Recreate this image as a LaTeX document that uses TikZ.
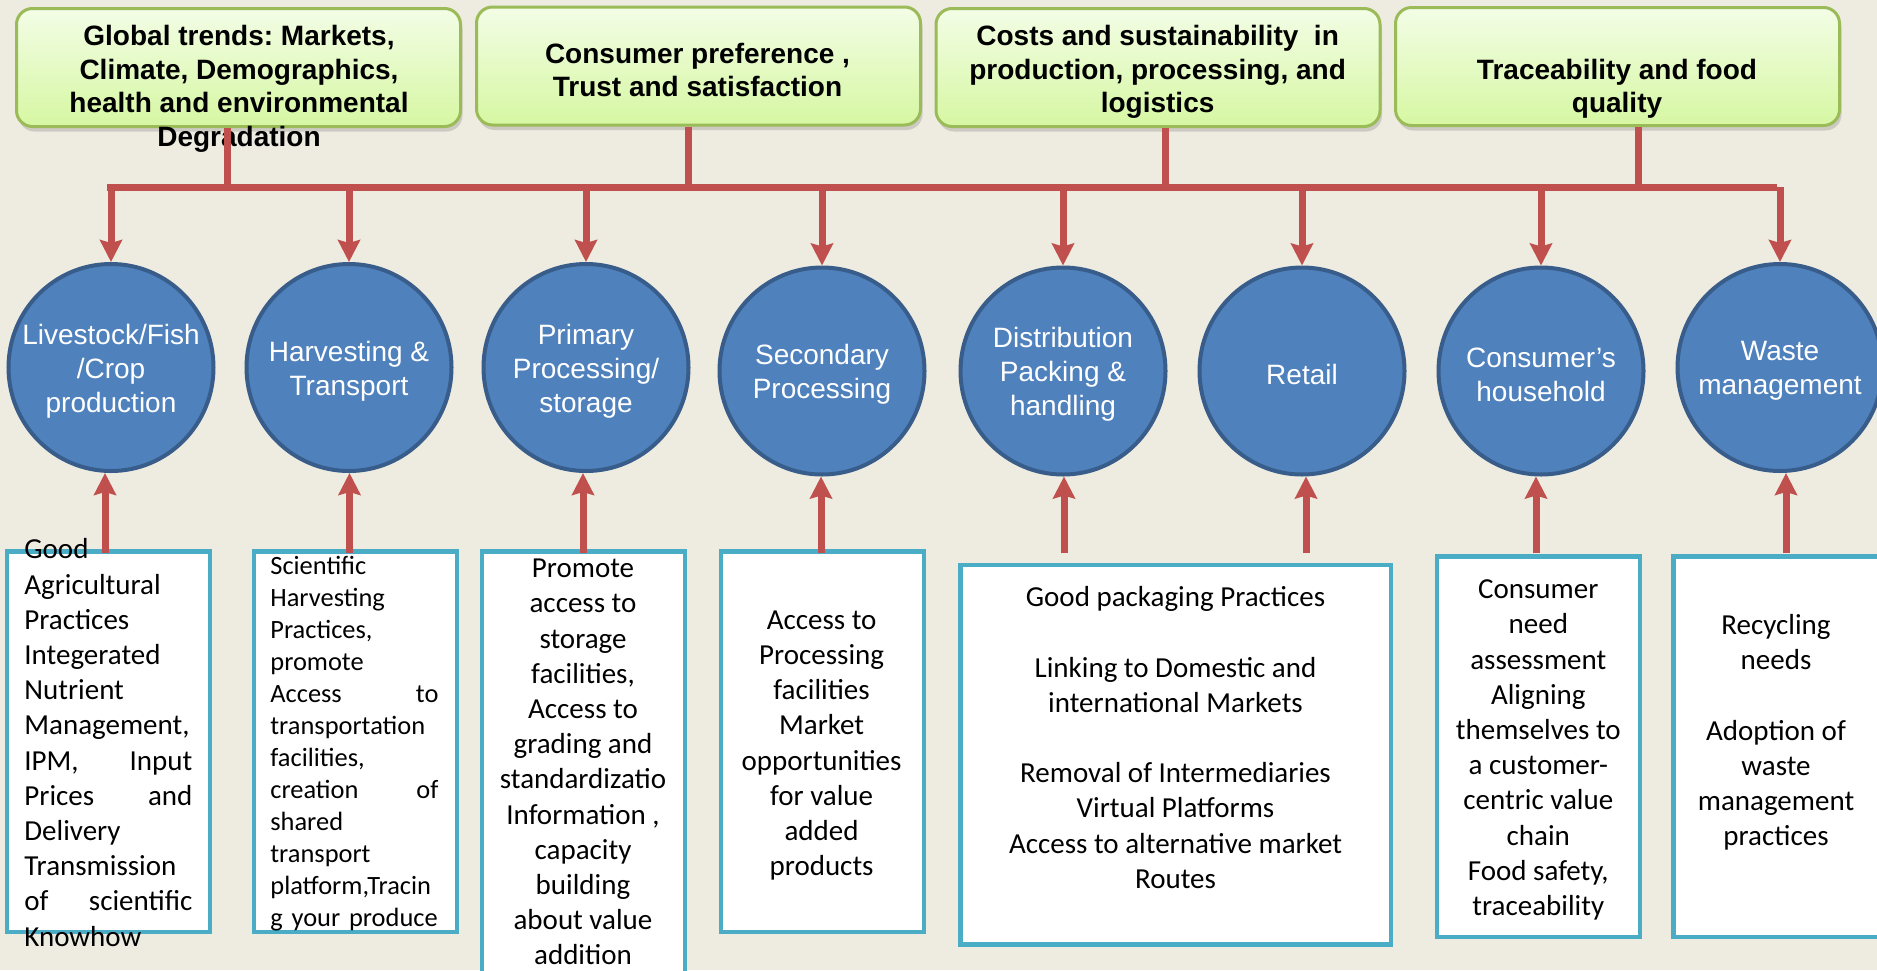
\documentclass[tikz,border=0pt]{standalone}
\usepackage{fontspec}
\setmainfont{Carlito}
\newfontfamily\headfont{Liberation Sans}
\usetikzlibrary{arrows.meta,shapes.geometric,shadows}
\frenchspacing

\definecolor{paper}{HTML}{EEEBE0}
\definecolor{chainred}{HTML}{C0504D}
\definecolor{stageblue}{HTML}{4F81BD}
\definecolor{stageedge}{HTML}{385D8A}
\definecolor{noteedge}{HTML}{4BACC6}
\definecolor{trendedge}{HTML}{9BBB59}
\definecolor{trendtop}{HTML}{F3FDE6}
\definecolor{trendbottom}{HTML}{D6F7A2}

\begin{document}
\begin{tikzpicture}[x=0.5pt,y=-0.5pt,
    trend/.style={rectangle, rounded corners=8pt, draw=trendedge, line width=1.5pt,
      top color=trendtop, bottom color=trendbottom,
      minimum width=222pt, minimum height=59pt,
      drop shadow={shadow xshift=1pt, shadow yshift=-2.5pt, opacity=0.3}},
    trendtext/.style={align=center, inner sep=0pt,
      font={\headfont\bfseries\fontsize{14}{16.75}\selectfont}},
    stage/.style={ellipse, draw=stageedge, fill=stageblue, line width=2pt,
      minimum width=102.5pt, minimum height=103.5pt, inner sep=0pt},
    stagetext/.style={align=center, inner sep=0pt, text=white, yshift=-1.8pt,
      font={\headfont\fontsize{14}{17}\selectfont}},
    note/.style={rectangle, draw=noteedge, fill=white, line width=2.25pt,
      minimum width=101.5pt, minimum height=190.25pt},
    notetext/.style={inner sep=0pt, font={\fontsize{14.5}{17.6}\selectfont}},
    link/.style={chainred, line width=3.5pt},
    flow/.style={chainred, line width=3.5pt, -{Stealth[length=11pt,width=11pt,inset=1.5pt]}}]

  % Page
  \useasboundingbox (0,0) rectangle (1877,970);
  \clip (0,0) rectangle (1877,970);
  \fill[paper] (0,0) rectangle (1877,970);

  % Drivers on top
  \node[trend] (g1) at (238.5,67.5) {};
  \node[trend] (g2) at (698.5,66) {};
  \node[trend] (g3) at (1158,67.5) {};
  \node[trend] (g4) at (1617.5,66.5) {};
  \node[trendtext] (t1) at (239,89) {Global trends: Markets,\\Climate, Demographics,\\health and environmental\\Degradation};
  \node[trendtext] (t2) at (697.5,70) {Consumer preference ,\\Trust and satisfaction};
  \node[trendtext] (t3) at (1157.6,72) {Costs and sustainability\ \ in\\production, processing, and\\logistics};
  \node[trendtext] (t4) at (1617,89) {Traceability and food\\quality};

  % Stages of the chain
  \node[stage] (c1) at (111,367.5) {};
  \node[stage] (c2) at (349,367.5) {};
  \node[stage] (c3) at (586,367.5) {};
  \node[stage] (c4) at (822,371) {};
  \node[stage] (c5) at (1063,371) {};
  \node[stage] (c6) at (1302,371) {};
  \node[stage] (c7) at (1541,371) {};
  \node[stage] (c8) at (1780,367.5) {};
  \node[stagetext] (s1) at (c1) {Livestock/Fish\\/Crop\\production};
  \node[stagetext] (s2) at (c2) {Harvesting \&\\Transport};
  \node[stagetext] (s3) at (c3) {Primary\\Processing/\\storage};
  \node[stagetext] (s4) at (c4) {Secondary\\Processing};
  \node[stagetext] (s5) at (c5) {Distribution\\Packing \&\\handling};
  \node[stagetext] (s6) at (c6) {Retail};
  \node[stagetext] (s7) at (c7) {Consumer’s\\household};
  \node[stagetext] (s8) at (c8) {Waste\\management};

  % Interventions below
  \node[note] (b1) at (108.25,741.5) {};
  \node[note] (b2) at (355.5,741.5) {};
  \node[note, minimum height=223.25pt] (b3) at (583.5,774.5) {};
  \node[note] (b4) at (822.5,741.5) {};
  \node[note, minimum width=215.25pt, minimum height=189.75pt] (b5) at (1175.5,754.7) {};
  \node[note] (b6) at (1538.5,746.5) {};
  \node[note, minimum width=112.25pt] (b7) at (1785.5,746.5) {};

  \node[notetext, anchor=west, text width=84pt, align=left] (n1) at (24,742.5)
    {Good\\Agricultural\\Practices\\Integerated\\Nutrient\\Management,\\IPM,\hfill Input\\Prices\hfill and\\Delivery\\Transmission\\of\hfill scientific\\Knowhow};
  \node[notetext, anchor=west, text width=84pt, align=left, font={\fontsize{13.2}{16}\selectfont}] (n2) at (270,743.5)
    {Scientific\\Harvesting\\Practices,\\promote\\Access\hfill to\\transportation\\facilities,\\creation\hfill of\\shared\\transport\\platform,Tracin\\g your produce};
  \node[notetext, align=center] (n3) at (583,762)
    {Promote\\access to\\storage\\facilities,\\Access to\\grading and\\standardizatio\\Information ,\\capacity\\building\\about value\\addition};
  \node[notetext, align=center] (n4) at (821.6,745.5)
    {Access to\\Processing\\facilities\\Market\\opportunities\\for value\\added\\products};
  \node[notetext, align=center] (n5) at (1175.5,737.5)
    {Good packaging Practices\\[17.6pt]Linking to Domestic and\\international Markets\\[17.6pt]Removal of Intermediaries\\Virtual Platforms\\Access to alternative market\\Routes};
  \node[notetext, align=center] (n6) at (1538.3,750)
    {Consumer\\need\\assessment\\Aligning\\themselves to\\a customer-\\centric value\\chain\\Food safety,\\traceability};
  \node[notetext, align=center] (n7) at (1776,732.5)
    {Recycling\\needs\\[17.6pt]Adoption of\\waste\\management\\practices};

  % Red bus from the drivers to the stages
  \coordinate (barL) at (110,187);
  \coordinate (barR) at (1773,187);
  \coordinate (k1) at (227,187);
  \coordinate (k2) at (688,187);
  \coordinate (k3) at (1165.5,187);
  \coordinate (k4) at (1638,187);
  \draw[link, line cap=rect] (barL) -- (barR);
  \draw[link] (g1.south -| k1) -- (k1);
  \draw[link] (g2.south -| k2) -- (k2);
  \draw[link] (g3.south -| k3) -- (k3);
  \draw[link] (g4.south -| k4) -- (k4);

  \draw[flow] (c1.north |- barL) -- (c1.north);
  \draw[flow] (c2.north |- barL) -- (c2.north);
  \draw[flow] (c3.north |- barL) -- (c3.north);
  \draw[flow] (c4.north |- barL) -- (c4.north);
  \draw[flow] (c5.north |- barL) -- (c5.north);
  \draw[flow] (c6.north |- barL) -- (c6.north);
  \draw[flow] (c7.north |- barL) -- (c7.north);
  \draw[flow] (c8.north |- barL) -- (c8.north);

  % Arrows up from the interventions
  \coordinate (u1) at (105,553);
  \coordinate (u2) at (349.5,553);
  \coordinate (u3) at (583,553);
  \coordinate (u4) at (821,553);
  \coordinate (u5) at (1064,553);
  \coordinate (u6) at (1306,553);
  \coordinate (u7) at (1536,553);
  \coordinate (u8) at (1786,553);
  \draw[flow] (u1) -- (u1 |- c1.south);
  \draw[flow] (u2) -- (u2 |- c2.south);
  \draw[flow] (u3) -- (u3 |- c3.south);
  \draw[flow] (u4) -- (u4 |- c4.south);
  \draw[flow] (u5) -- (u5 |- c5.south);
  \draw[flow] (u6) -- (u6 |- c6.south);
  \draw[flow] (u7) -- (u7 |- c7.south);
  \draw[flow] (u8) -- (u8 |- c8.south);
\end{tikzpicture}
\end{document}
